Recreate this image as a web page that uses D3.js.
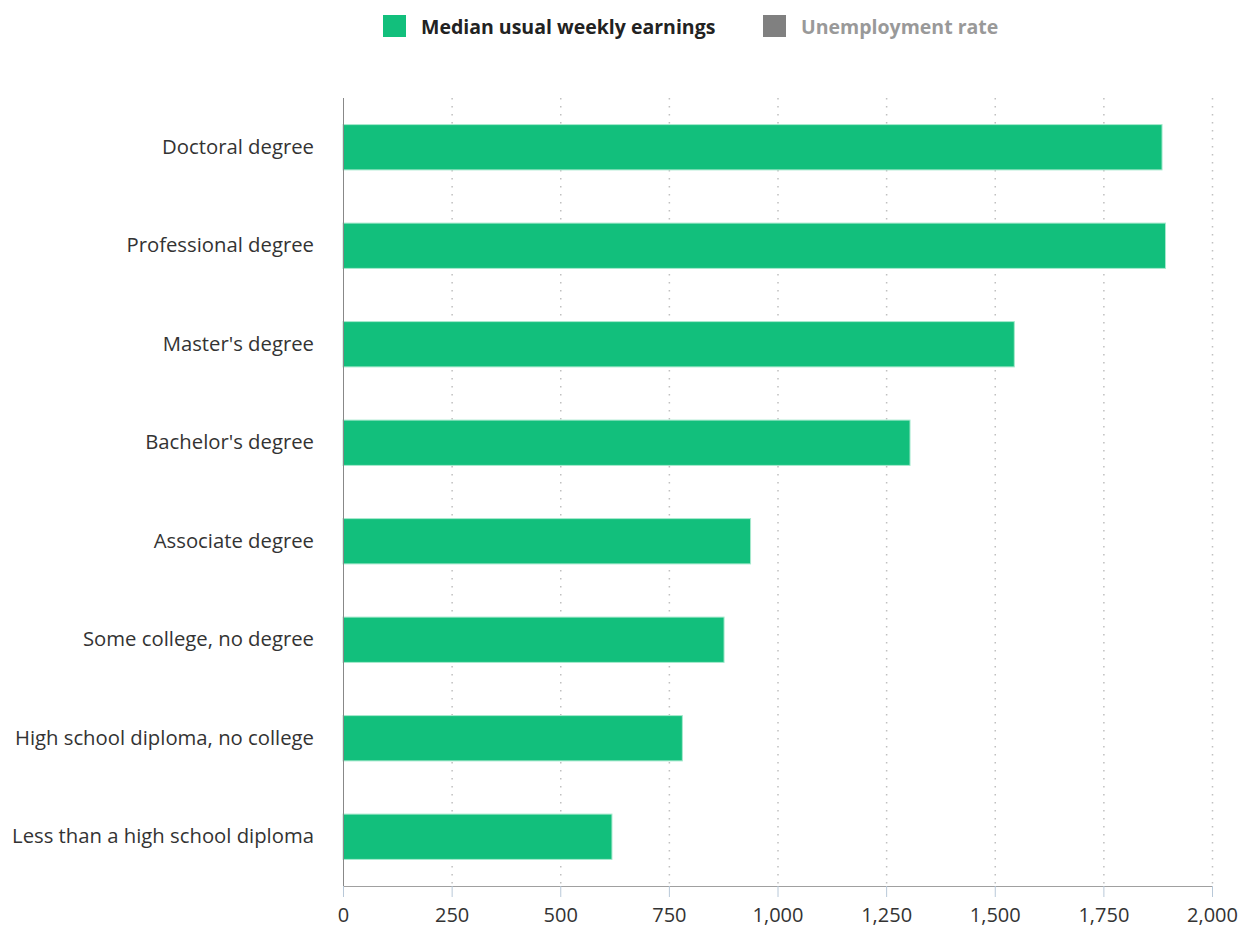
<!DOCTYPE html>
<html><head><meta charset="utf-8">
<script src="https://cdn.jsdelivr.net/npm/d3@7"></script>
<style>
body{margin:0;background:#fff;}
svg text{font-family:"Open Sans",sans-serif;}
</style></head>
<body>
<svg id="chart" width="1251" height="931"></svg>
<script>
const categories = ["Doctoral degree","Professional degree","Master's degree","Bachelor's degree","Associate degree","Some college, no degree","High school diploma, no college","Less than a high school diploma"];
const earnings = [1885,1893,1545,1305,938,877,781,619];
const tickValues = [0,250,500,750,1000,1250,1500,1750,2000];
const legendItems = ["Median usual weekly earnings","Unemployment rate"];

const svg = d3.select("#chart");
const m = {left:343, right:1212, top:98, bottom:886};
const x = d3.scaleLinear().domain([0,2000]).range([m.left,m.right]);
const y = d3.scaleBand().domain(categories).range([m.top,m.bottom]).paddingInner(0.54).paddingOuter(0.27);

// grid
svg.append("g").selectAll("line").data(tickValues.slice(1)).join("line")
  .attr("x1",d=>x(d)+0.5).attr("x2",d=>x(d)+0.5).attr("y1",m.top).attr("y2",m.bottom)
  .attr("stroke","#c0c0c0").attr("stroke-dasharray","1.5,6.5").attr("stroke-width",1.5);

// bars
svg.append("g").selectAll("rect").data(categories).join("rect")
  .attr("x",x(0)).attr("y",d=>y(d)).attr("height",y.bandwidth())
  .attr("width",(d,i)=>x(earnings[i])-x(0))
  .attr("fill","#12bf7c").attr("stroke","#a6e9cd").attr("stroke-width",1);

// x axis
const xa = svg.append("g").attr("transform",`translate(0,${m.bottom})`)
  .call(d3.axisBottom(x).tickValues(tickValues).tickSize(11).tickPadding(11).tickFormat(d3.format(",")));
xa.select(".domain").attr("stroke","#a0a0a0").attr("d",`M${m.left},0.5H${m.right}`);
xa.selectAll(".tick line").attr("stroke","#b8c8d8");
xa.selectAll(".tick text").attr("font-size",20).attr("fill","#333").attr("font-family","'Open Sans',sans-serif");

// y axis
const ya = svg.append("g").attr("transform",`translate(${m.left},0)`)
  .call(d3.axisLeft(y).tickSize(0).tickPadding(29));
ya.select(".domain").attr("stroke","#888").attr("d",`M0.5,${m.top}V${m.bottom}`);
ya.selectAll(".tick text").attr("font-size",20.3).attr("fill","#333").attr("font-family","'Open Sans',sans-serif");

// legend
const lg = svg.append("g");
const lx = [383,763], lc = ["#12bf7c","#808080"], tc = ["#222","#999"];
legendItems.forEach((t,i)=>{
  lg.append("rect").attr("x",lx[i]).attr("y",15).attr("width",23).attr("height",22).attr("fill",lc[i]);
  lg.append("text").attr("x",lx[i]+38).attr("y",34).attr("font-size",19.5).attr("font-weight","bold").attr("fill",tc[i]).text(t);
});
</script>
</body></html>
